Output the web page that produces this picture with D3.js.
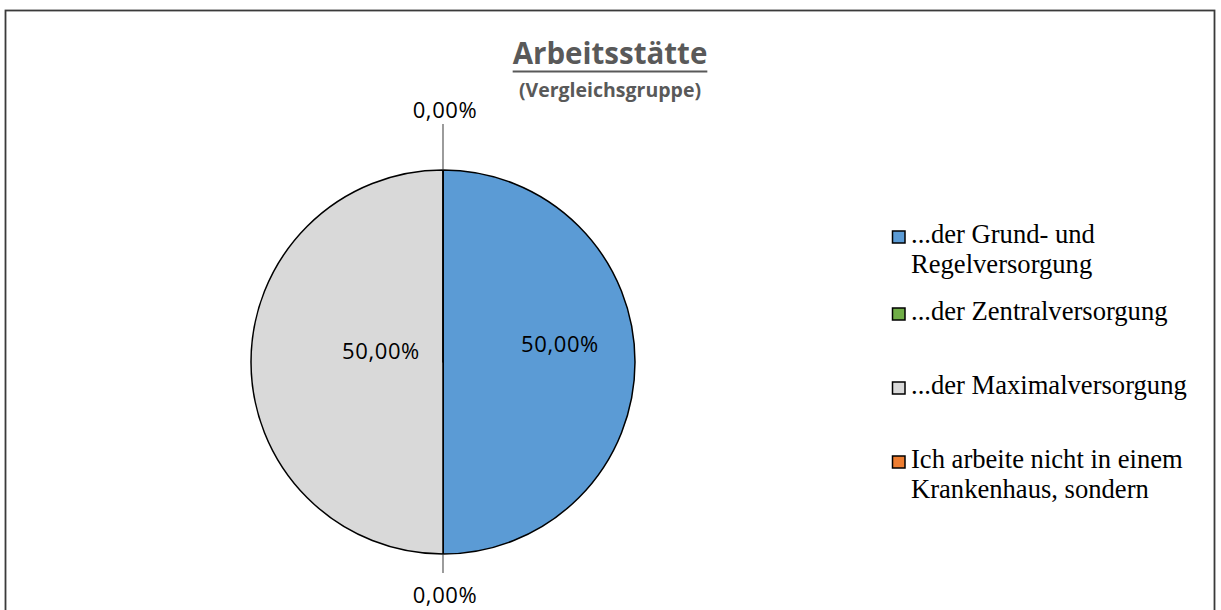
<!DOCTYPE html>
<html><head><meta charset="utf-8">
<script src="https://cdn.jsdelivr.net/npm/d3@7"></script>
<style>body{margin:0;background:#fff}svg{display:block}</style>
</head><body>
<svg id="c" width="1221" height="610"></svg>
<script>
const categories = ["...der Grund- und Regelversorgung", "...der Zentralversorgung", "...der Maximalversorgung", "Ich arbeite nicht in einem Krankenhaus, sondern"];
const legendLines = [["...der Grund- und", "Regelversorgung"], ["...der Zentralversorgung"], ["...der Maximalversorgung"], ["Ich arbeite nicht in einem", "Krankenhaus, sondern"]];
const values = [50, 0, 50, 0];
const colors = ["#5B9BD5", "#70AD47", "#D9D9D9", "#ED7D31"];
const titleText = "Arbeitsstätte";
const subtitleText = "(Vergleichsgruppe)";

const svg = d3.select("#c");
svg.append("rect").attr("x", 5.5).attr("y", 10.5).attr("width", 1209).attr("height", 640)
  .attr("fill", "#fff").attr("stroke", "#3a3a3a").attr("stroke-width", 1.8);

// title
const t = svg.append("text").attr("x", 610).attr("y", 64).attr("text-anchor", "middle")
  .attr("font-family", "'Open Sans', sans-serif").attr("font-weight", "bold").attr("font-size", 29.5)
  .attr("fill", "#595959").text(titleText);
const tw = t.node().getComputedTextLength();
svg.append("line").attr("x1", 610 - tw/2).attr("x2", 610 + tw/2).attr("y1", 71.5).attr("y2", 71.5)
  .attr("stroke", "#595959").attr("stroke-width", 2.2);
svg.append("text").attr("x", 610).attr("y", 97).attr("text-anchor", "middle")
  .attr("font-family", "'Open Sans', sans-serif").attr("font-weight", "bold").attr("font-size", 19.5)
  .attr("fill", "#595959").text(subtitleText);

// pie
const cx = 443, cy = 362, R = 192;
const pie = d3.pie().sort(null).value(d => d)(values);
const arc = d3.arc().innerRadius(0).outerRadius(R);
const g = svg.append("g").attr("transform", `translate(${cx},${cy})`);
g.selectAll("path.s").data(pie).join("path").attr("class", "s")
  .attr("d", arc).attr("fill", (d, i) => colors[i])
  .attr("stroke", "#000").attr("stroke-width", 1.5).attr("stroke-linejoin", "round");

const fmt = v => d3.format(".2f")(v).replace(".", ",") + "%";
const total = d3.sum(values);
const labelFont = "'Open Sans', sans-serif";
pie.forEach((d, i) => {
  const pct = d.data / total * 100;
  const mid = (d.startAngle + d.endAngle) / 2;
  const sx = Math.sin(mid), sy = -Math.cos(mid);
  if (pct > 0) {
    // inside labels (best-fit style)
    const lr = sx > 0 ? 117 : 62;
    const x = sx * lr, y = sx > 0 ? -17 : -10;
    g.append("text").attr("x", x).attr("y", y + 7).attr("text-anchor", "middle")
      .attr("font-family", labelFont).attr("font-size", 22).attr("letter-spacing", 0.6)
      .attr("fill", "#000").text(fmt(pct));
  } else {
    const r1 = R, r2 = sy < 0 ? R + 46 : R + 19;
    g.append("line").attr("x1", sx * r1).attr("y1", sy * r1).attr("x2", sx * r2).attr("y2", sy * r2)
      .attr("stroke", "#595959").attr("stroke-width", 1.2);
    const ly = sy < 0 ? sy * (R + 59) : sy * (R + 42);
    g.append("text").attr("x", sx * r2 + 2).attr("y", ly + 7).attr("text-anchor", "middle")
      .attr("font-family", labelFont).attr("font-size", 22).attr("letter-spacing", 0.6)
      .attr("fill", "#000").text(fmt(pct));
  }
});

// legend
const legY = [243, 320, 394, 468];
const lg = svg.append("g");
legendLines.forEach((lines, i) => {
  lg.append("rect").attr("x", 892.5).attr("y", legY[i] - 12).attr("width", 12.5).attr("height", 12)
    .attr("fill", colors[i]).attr("stroke", "#000").attr("stroke-width", 1.5);
  const tx = lg.append("text").attr("x", 911).attr("y", legY[i])
    .attr("font-family", "'Liberation Serif', 'Times New Roman', serif").attr("font-size", 26.6).attr("fill", "#000");
  lines.forEach((l, j) => tx.append("tspan").attr("x", 911).attr("dy", j ? 30 : 0).text(l));
});
</script>
</body></html>
